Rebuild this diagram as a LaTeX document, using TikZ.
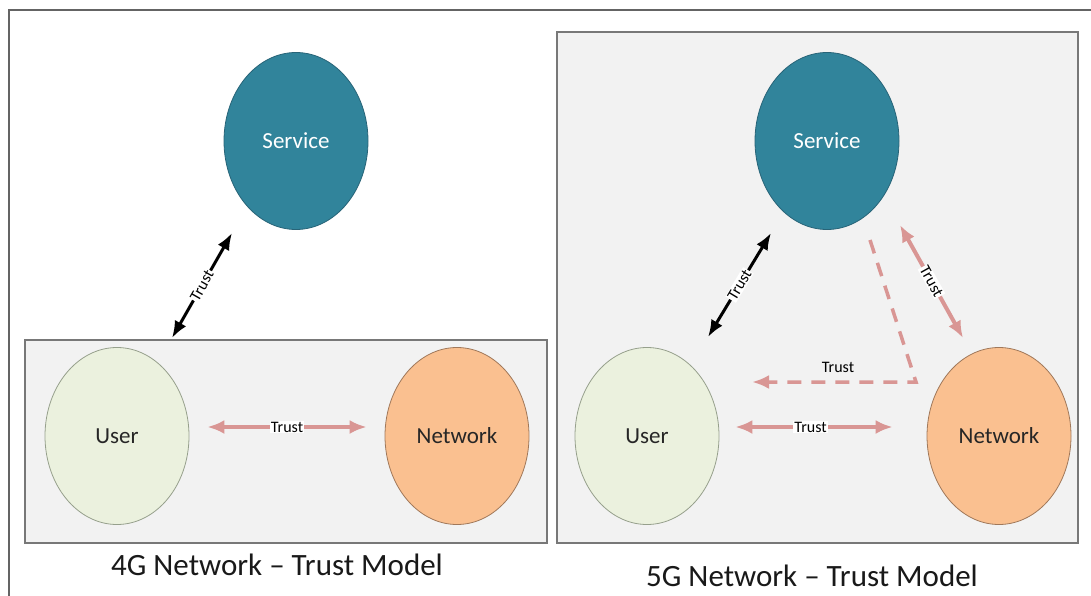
\documentclass[tikz,border=0pt]{standalone}
\usepackage{fontspec}
\setmainfont{Carlito}
\usetikzlibrary{shapes.geometric,arrows.meta}
\definecolor{svcc}{RGB}{49,132,155}
\definecolor{svcb}{RGB}{40,100,120}
\definecolor{usrc}{RGB}{235,241,222}
\definecolor{usrb}{RGB}{150,160,140}
\definecolor{netc}{RGB}{250,192,144}
\definecolor{netb}{RGB}{160,120,90}
\definecolor{pinkc}{RGB}{217,150,148}
\definecolor{panelc}{RGB}{242,242,242}
\definecolor{panelb}{RGB}{120,120,120}
\definecolor{framec}{RGB}{100,100,100}
\begin{document}
\begin{tikzpicture}[x=1pt,y=-1pt,
  ell/.style={ellipse, minimum width=144pt, minimum height=177pt, inner sep=0pt, line width=0.8pt, font=\fontsize{23}{26}\selectfont},
  svc/.style={ell, fill=svcc, draw=svcb, text=white},
  usr/.style={ell, fill=usrc, draw=usrb, text=black!85},
  net/.style={ell, fill=netc, draw=netb, text=black!85},
  blk/.style={line width=3pt, {Latex[length=17pt,width=13pt]}-{Latex[length=17pt,width=13pt]}},
  pnk/.style={draw=pinkc, line width=4pt, {Latex[length=17pt,width=14pt]}-{Latex[length=17pt,width=14pt]}},
  pnkd/.style={draw=pinkc, line width=3.5pt, dash pattern=on 14pt off 10pt, -{Latex[length=17pt,width=14pt]}},
  lbl/.style={font=\fontsize{16}{18}\selectfont, fill=white, inner sep=1pt, text=black},
  plbl/.style={font=\fontsize{16}{18}\selectfont, inner sep=1pt, text=black},
  panel/.style={fill=panelc, draw=panelb, line width=1.5pt},
  title/.style={font=\fontsize{31}{36}\selectfont, text=black!90}]
\useasboundingbox (0,0) rectangle (1091,596);
\fill[white] (0,0) rectangle (1091,596);
% outer frame
\draw[framec, line width=2pt] (9,610) -- (9,10) -- (1100,10);
% panels
\draw[panel] (25,340) rectangle (547,543);
\draw[panel] (557,32) rectangle (1078,543);
% 4G
\node[svc] (s1) at (296,141) {Service};
\node[usr] (u1) at (117,436) {User};
\node[net] (n1) at (457,436) {Network};
\coordinate (b1a) at (172,338);
\coordinate (b1b) at (232,233);
\draw[blk] (b1a) -- node[lbl, sloped] {Trust} (b1b);
\draw[pnk, shorten <=18pt, shorten >=18pt] ([yshift=9pt]u1.east) -- node[lbl] {Trust} ([yshift=9pt]n1.west);
\node[title] (t1) at (277,565) {4G Network -- Trust Model};
% 5G
\node[svc] (s2) at (827,141) {Service};
\node[usr] (u2) at (647,436) {User};
\node[net] (n2) at (999,436) {Network};
\coordinate (b2a) at (708,337);
\coordinate (b2b) at (771,233);
\draw[blk] (b2a) -- node[lbl, sloped] {Trust} (b2b);
\coordinate (p2a) at (900,225);
\coordinate (p2b) at (963,338);
\draw[pnk] (p2a) -- node[lbl, sloped] {Trust} (p2b);
\draw[pnk, shorten <=16pt, shorten >=34pt] ([yshift=9pt]u2.east) -- node[lbl, pos=0.44] {Trust} ([yshift=9pt]n2.west);
\coordinate (d1) at (870,240);
\coordinate (d2) at (916,382);
\coordinate (d3) at (752,382);
\draw[pnkd] (d1) -- (d2) -- (d3);
\node[plbl] (dl) at (838,367) {Trust};
\node[title] (t2) at (812,576) {5G Network -- Trust Model};
\end{tikzpicture}
\end{document}
